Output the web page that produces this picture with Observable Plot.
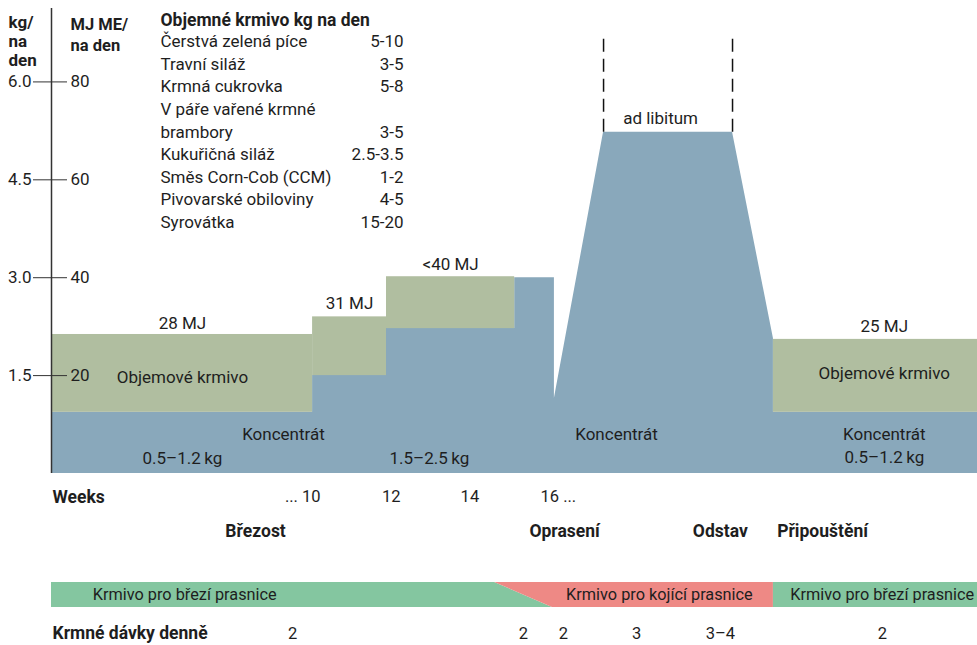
<!DOCTYPE html>
<html>
<head>
<meta charset="utf-8">
<script src="https://cdn.jsdelivr.net/npm/d3@7"></script>
<script src="https://cdn.jsdelivr.net/npm/@observablehq/plot@0.6"></script>
<style>
  body { margin: 0; background: #fff; }
  #chart svg { display: block; }
</style>
</head>
<body>
<div id="chart"></div>
<script>
// ---------- data (x in weeks, y in MJ ME per day) ----------
const weekDomain = [3.36, 26.91];
const mjMax = 95;

const concentrateWeek = [3.36, 10, 10, 11.88, 11.88, 15.14, 15.14, 16.15, 16.15, 17.4, 20.68, 21.72, 21.72, 26.91];
const concentrateMJ   = [12.5, 12.5, 20, 20, 29.6, 29.6, 40, 40, 15.3, 69.7, 69.7, 27.6, 12.5, 12.5];

const roughageStart = [3.36, 10, 11.88, 21.72];
const roughageEnd   = [10, 11.88, 15.14, 26.91];
const roughageFrom  = [12.5, 20, 29.6, 12.5];
const roughageTo    = [28.4, 32, 40.2, 27.4];

const adLibitumWeeks = [17.4, 20.68];
const adLibitumFrom = 69.7;
const adLibitumTo = 88.7;

const mjTicks = [20, 40, 60, 80];
const kgPerMJ = 0.075;

const areaLabelText = ["28 MJ", "31 MJ", "<40 MJ", "Objemové krmivo", "Koncentrát", "0.5–1.2\u2009kg", "1.5–2.5\u2009kg",
                       "ad libitum", "Koncentrát", "25 MJ", "Objemové krmivo", "Koncentrát", "0.5–1.2\u2009kg"];
const areaLabelWeek = [6.69, 10.94, 13.51, 6.69, 9.26, 6.69, 12.97, 18.85, 17.73, 24.54, 24.54, 24.54, 24.54];
const areaLabelMJ   = [30.6, 34.7, 42.7, 19.6, 8.0, 3.0, 3.0, 72.5, 8.0, 30.0, 20.4, 8.0, 3.3];

const kgTitle = "kg/\nna\nden";
const mjTitle = "MJ ME/\nna den";
const fodderTitle = "Objemné krmivo kg na den";
const fodderNames = ["Čerstvá zelená píce", "Travní siláž", "Krmná cukrovka", "V páře vařené krmné\nbrambory",
                     "Kukuřičná siláž", "Směs Corn-Cob (CCM)", "Pivovarské obiloviny", "Syrovátka"];
const fodderAmounts = ["5-10", "3-5", "5-8", "\n3-5", "2.5-3.5", "1-2", "4-5", "15-20"];

const weekTicks = [10, 12, 14, 16];
const weekTickLabels = ["... 10", "12", "14", "16 ..."];

const phaseNames = ["Březost", "Oprasení", "Odstav", "Připouštění"];
const phaseWeeks = [8.55, 16.41, 20.37, 22.97];

// feed band: pregnant sow feed -> lactating sow feed -> pregnant sow feed
const pregnantAWeek = [3.36, 14.63, 16.10];
const pregnantATop  = [1, 1, 0];
const lactWeek      = [14.63, 16.10, 21.72];
const lactBottom    = [1, 0, 0];
const pregnantBWeek = [21.72, 26.91];
const feedNames = ["Krmivo pro březí prasnice", "Krmivo pro kojící prasnice", "Krmivo pro březí prasnice"];
const feedWeeks = [4.41, 18.82, 22.15];
const feedAnchors = ["start", "middle", "start"];

const rationLabel = "Krmné dávky denně";
const rationValues = ["2", "2", "2", "3", "3–4", "2"];
const rationWeeks  = [9.49, 15.36, 16.38, 18.24, 20.37, 24.49];

// ---------- styles ----------
const blue = "#89a8bb", green = "#b0bea0", bandGreen = "#84c6a0", bandRed = "#ee8985", ink = "#1e1e1e";
const W = 977, leftMargin = 51;

const concentrate = concentrateWeek.map((w, i) => ({w, mj: concentrateMJ[i]}));
const roughage = roughageStart.map((s, i) => ({s, e: roughageEnd[i], a: roughageFrom[i], b: roughageTo[i]}));
const areaLabels = areaLabelText.map((t, i) => ({t, w: areaLabelWeek[i], mj: areaLabelMJ[i]}));

const mainPlot = Plot.plot({
  width: W, height: 473,
  marginLeft: leftMargin, marginRight: 0, marginTop: 8, marginBottom: 0,
  x: {domain: weekDomain, axis: null},
  y: {domain: [0, mjMax], axis: null},
  style: {fontFamily: "Roboto, sans-serif", fontSize: "17px", color: ink, background: "#fff", overflow: "visible"},
  marks: [
    Plot.areaY(concentrate, {x: "w", y1: 0, y2: "mj", fill: blue, curve: "linear"}),
    Plot.rect(roughage, {x1: "s", x2: "e", y1: "a", y2: "b", fill: green}),
    Plot.ruleX(adLibitumWeeks, {y1: adLibitumFrom, y2: adLibitumTo, stroke: "#111", strokeWidth: 1.5, strokeDasharray: "13,7"}),
    Plot.ruleX([weekDomain[0]], {stroke: "#333", strokeWidth: 1.5}),
    Plot.axisY({ticks: mjTicks, tickSize: 34, dx: 16, tickPadding: 2, label: null, fontSize: 17,
                tickFormat: d => (d * kgPerMJ).toFixed(1), stroke: "#333"}),
    Plot.text(mjTicks, {y: d => d, frameAnchor: "left", dx: 19, textAnchor: "start", text: d => String(d), fontSize: 17}),
    Plot.text([kgTitle], {frameAnchor: "top-left", dx: -43, dy: 6, textAnchor: "start", lineAnchor: "top", lineHeight: 1.12, fontWeight: "bold", fontSize: 17}),
    Plot.text([mjTitle], {frameAnchor: "top-left", dx: 19, dy: 6, textAnchor: "start", lineAnchor: "top", lineHeight: 1.3, fontWeight: "bold", fontSize: 16.5}),
    Plot.text([fodderTitle], {frameAnchor: "top-left", dx: 109, dy: 5, textAnchor: "start", lineAnchor: "top", fontWeight: "bold", fontSize: 17.5}),
    Plot.text([fodderNames.join("\n")], {frameAnchor: "top-left", dx: 109, dy: 23, textAnchor: "start", lineAnchor: "top", lineHeight: 1.324, fontSize: 17}),
    Plot.text([fodderAmounts.join("\n")], {frameAnchor: "top-left", dx: 352, dy: 23, textAnchor: "end", lineAnchor: "top", lineHeight: 1.324, fontSize: 17}),
    Plot.text(areaLabels, {x: "w", y: "mj", text: "t", fontSize: 17})
  ]
});

const bandA = pregnantAWeek.map((w, i) => ({w, y1: 0, y2: pregnantATop[i]}));
const bandL = lactWeek.map((w, i) => ({w, y1: lactBottom[i], y2: 1}));
const bandB = pregnantBWeek.map(w => ({w, y1: 0, y2: 1}));
const feeds = feedNames.map((t, i) => ({t, w: feedWeeks[i], a: feedAnchors[i]}));

const lowerPlot = Plot.plot({
  width: W, height: 172,
  marginLeft: leftMargin, marginRight: 0, marginTop: 109, marginBottom: 38,
  x: {domain: weekDomain, axis: null},
  y: {domain: [0, 1], axis: null},
  style: {fontFamily: "Roboto, sans-serif", fontSize: "17px", color: ink, background: "#fff", overflow: "visible"},
  marks: [
    Plot.areaY(bandA, {x: "w", y1: "y1", y2: "y2", fill: bandGreen}),
    Plot.areaY(bandL, {x: "w", y1: "y1", y2: "y2", fill: bandRed}),
    Plot.areaY(bandB, {x: "w", y1: "y1", y2: "y2", fill: bandGreen}),
    Plot.text(feeds.filter(d => d.a === "start"), {x: "w", y: 0.5, text: "t", textAnchor: "start", fontSize: 16.3}),
    Plot.text(feeds.filter(d => d.a === "middle"), {x: "w", y: 0.5, text: "t", textAnchor: "middle", fontSize: 16.3}),
    Plot.text(["Weeks"], {frameAnchor: "top-left", dx: 1, dy: -92, textAnchor: "start", fontWeight: "bold", fontSize: 17.5}),
    Plot.text([weekTicks[0]], {x: d => d, frameAnchor: "top", dy: -92, dx: 8, textAnchor: "end", text: () => weekTickLabels[0], fontSize: 16.5}),
    Plot.text(weekTicks.slice(1, 3), {x: d => d, frameAnchor: "top", dy: -92, text: (d, i) => weekTickLabels[i + 1], fontSize: 16.5}),
    Plot.text([weekTicks[3]], {x: d => d, frameAnchor: "top", dy: -92, dx: -8, textAnchor: "start", text: () => weekTickLabels[3], fontSize: 16.5}),
    Plot.text(phaseNames, {x: (d, i) => phaseWeeks[i], frameAnchor: "top", dy: -58, text: d => d, fontWeight: "bold", fontSize: 17.5}),
    Plot.text([rationLabel], {frameAnchor: "bottom-left", dx: 1, dy: 31, textAnchor: "start", fontWeight: "bold", fontSize: 17.5}),
    Plot.text(rationValues, {x: (d, i) => rationWeeks[i], frameAnchor: "bottom", dy: 31, text: d => d, fontSize: 16.5})
  ]
});

document.getElementById("chart").append(mainPlot, lowerPlot);
</script>
</body>
</html>
